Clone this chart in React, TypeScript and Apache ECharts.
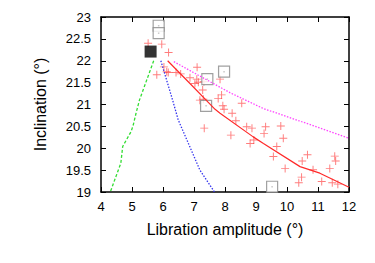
import React, { useEffect, useRef } from "react";
import * as echarts from "echarts";

const xTicks = [4, 5, 6, 7, 8, 9, 10, 11, 12];
const yTicks = [19, 19.5, 20, 20.5, 21, 21.5, 22, 22.5, 23];

const greenCurve: number[][] = [
  [5.70, 22.0], [5.24, 21.1], [5.13, 20.8], [5.04, 20.53], [4.97, 20.38],
  [4.70, 20.04], [4.64, 19.66], [4.30, 19.0],
];
const blueCurve: number[][] = [
  [5.93, 22.0], [6.31, 21.1], [6.49, 20.65], [6.82, 20.11], [7.19, 19.5], [7.66, 19.0],
];
const redCurve: number[][] = [
  [6.15, 22.0], [6.87, 21.48], [7.68, 20.89], [7.84, 20.8], [8.91, 20.26],
  [9.24, 20.11], [10.42, 19.58], [11.06, 19.43], [12.0, 19.11],
];
const magentaCurve: number[][] = [
  [6.35, 21.98], [7.19, 21.65], [8.16, 21.27], [9.23, 20.91], [10.42, 20.62], [12.0, 20.23],
];
const plusPoints: number[][] = [
  [5.52, 22.40], [5.96, 22.38], [6.18, 22.19], [5.80, 21.68], [6.03, 21.86],
  [6.12, 21.75], [6.17, 21.73], [6.42, 21.73], [6.57, 21.70], [6.87, 21.61],
  [7.10, 21.85], [7.09, 21.58], [7.14, 21.51], [7.03, 21.48], [7.28, 21.33],
  [7.30, 21.12], [7.19, 21.10], [7.84, 21.58], [7.32, 21.52], [7.89, 21.22],
  [7.78, 21.14], [7.93, 20.97], [7.97, 20.89], [8.54, 21.03], [8.23, 20.80],
  [8.35, 20.63], [7.33, 20.46], [8.19, 20.30], [8.70, 20.49], [8.87, 20.46],
  [9.31, 20.49], [9.26, 20.34], [8.81, 20.11], [8.93, 20.19], [9.80, 20.51],
  [9.88, 20.23], [9.67, 20.04], [9.56, 19.81], [10.66, 19.85], [10.49, 19.71],
  [9.94, 19.54], [10.84, 19.51], [11.38, 19.54], [11.54, 19.82], [11.57, 19.71],
  [10.47, 19.34], [10.38, 19.21], [11.12, 19.24], [11.46, 19.21], [11.64, 19.18],
];
const openSquares: number[][] = [
  [5.86, 22.80], [5.86, 22.63], [7.43, 21.58], [7.97, 21.75], [7.39, 20.97], [9.52, 19.12],
];
const filledSquare: number[][] = [[5.60, 22.21]];

const FONT = "'Liberation Sans', Arial, Helvetica, sans-serif";

export default function App() {
  const ref = useRef<HTMLDivElement>(null);
  useEffect(() => {
    if (!ref.current) return;
    const chart = echarts.init(ref.current, undefined, { renderer: "svg" });
    const axisLine = { show: true, lineStyle: { color: "#000", width: 1.5 } };
    const tickStyle = { show: true, inside: true, length: 5, lineStyle: { color: "#000", width: 1 } };
    chart.setOption({
      animation: false,
      backgroundColor: "#fff",
      grid: { left: 93, top: 9, width: 248, height: 175, containLabel: false },
      xAxis: [
        {
          type: "value", min: 4, max: 12, interval: 1, position: "bottom",
          axisLine, axisTick: tickStyle, splitLine: { show: false },
          axisLabel: {
            color: "#000", fontSize: 13, fontFamily: FONT, margin: 8,
            formatter: (v: number) => (xTicks.includes(v) ? String(v) : ""),
          },
          name: "Libration amplitude (°)", nameLocation: "middle", nameGap: 29,
          nameTextStyle: { color: "#000", fontSize: 16, fontFamily: FONT },
        },
        {
          type: "value", min: 4, max: 12, interval: 1, position: "top",
          axisLine, axisTick: tickStyle, splitLine: { show: false }, axisLabel: { show: false },
        },
      ],
      yAxis: [
        {
          type: "value", min: 19, max: 23, interval: 0.5, position: "left",
          axisLine, axisTick: tickStyle, splitLine: { show: false },
          axisLabel: {
            color: "#000", fontSize: 13, fontFamily: FONT, margin: 10,
            formatter: (v: number) => (yTicks.includes(v) ? String(v) : ""),
          },
          name: "Inclination (°)", nameLocation: "middle", nameGap: 53, nameRotate: 90,
          nameTextStyle: { color: "#000", fontSize: 16, fontFamily: FONT },
        },
        {
          type: "value", min: 19, max: 23, interval: 0.5, position: "right",
          axisLine, axisTick: tickStyle, splitLine: { show: false }, axisLabel: { show: false },
        },
      ],
      series: [
        {
          type: "line", data: greenCurve, symbol: "none", clip: true,
          lineStyle: { color: "#33dd33", width: 1.3, type: [3, 2] },
        },
        {
          type: "line", data: blueCurve, symbol: "none", clip: true,
          lineStyle: { color: "#3333ee", width: 1.3, type: [1.5, 1.5] },
        },
        {
          type: "line", data: magentaCurve, symbol: "none", clip: true,
          lineStyle: { color: "#ff44ff", width: 1.3, type: [1.5, 1.5] },
        },
        {
          type: "line", data: redCurve, symbol: "none", clip: true,
          lineStyle: { color: "#ff2a2a", width: 1.2 },
        },
        {
          type: "scatter", data: plusPoints,
          symbol: "path://M4.4,0H5.6V4.4H10V5.6H5.6V10H4.4V5.6H0V4.4H4.4Z",
          symbolSize: 8,
          itemStyle: { color: "rgba(255,50,50,0.8)" },
        },
        {
          type: "scatter", data: openSquares, symbol: "rect", symbolSize: 11,
          itemStyle: { color: "#fff", borderColor: "#888", borderWidth: 1.2 },
        },
        {
          type: "scatter", data: openSquares, symbol: "rect", symbolSize: 1.5,
          itemStyle: { color: "#bbb" },
        },
        {
          type: "scatter", data: filledSquare, symbol: "rect", symbolSize: 12,
          itemStyle: { color: "#000" },
        },
      ],
    });
    return () => chart.dispose();
  }, []);
  return <div ref={ref} style={{ width: 367, height: 255 }} />;
}
